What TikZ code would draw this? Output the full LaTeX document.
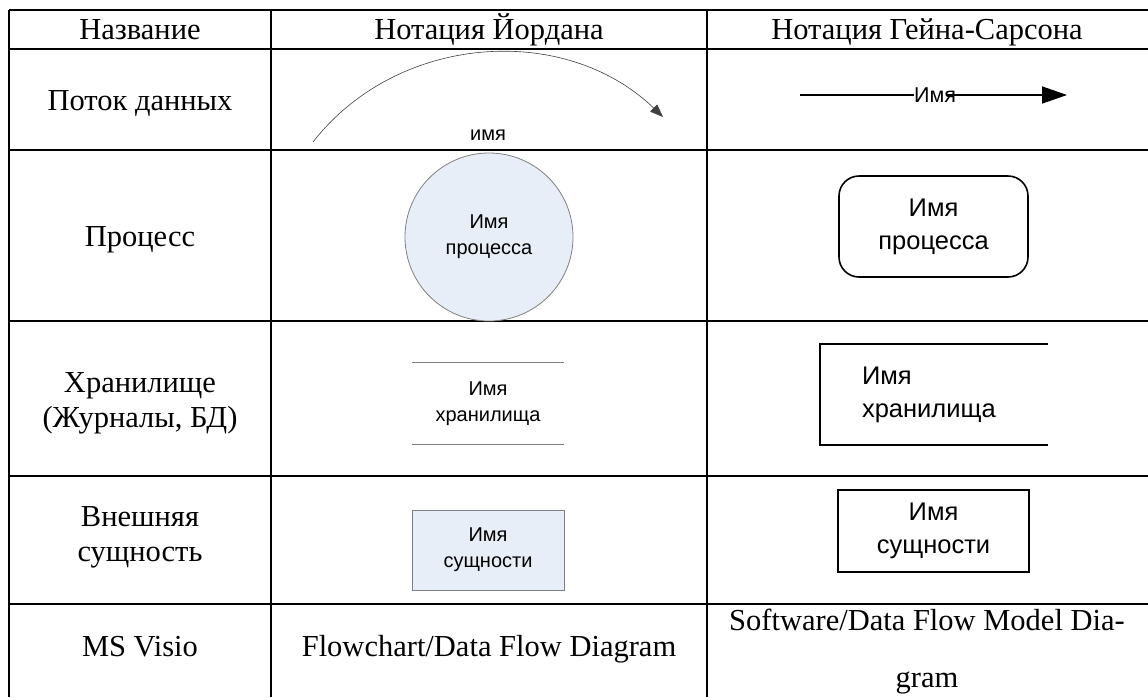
\documentclass[tikz,border=0pt]{standalone}
\usepackage{fontspec}
\setmainfont{Liberation Serif}
\newfontfamily\arialfont{Liberation Sans}
\usetikzlibrary{arrows.meta}
\definecolor{shapefill}{RGB}{232,238,247}
\definecolor{shapeline}{RGB}{128,128,128}

\tikzset{
  tableline/.style={line width=1.6pt},
  head/.style={font=\fontsize{30.5}{35}\selectfont, align=center, inner sep=0pt},
  small/.style={font=\arialfont\fontsize{20}{26}\selectfont, align=center, inner sep=0pt},
  big/.style={font=\arialfont\fontsize{25.5}{33}\selectfont, align=center, inner sep=0pt},
  yshape/.style={draw=shapeline, fill=shapefill, line width=0.8pt},
  gshape/.style={draw=black, line width=1.6pt},
}

\begin{document}
\begin{tikzpicture}[x=1pt,y=-1pt]
\useasboundingbox (0,0) rectangle (1148,697);

\foreach \y in {10,49,150,321,476,604} \draw[tableline] (9,\y) -- (1148,\y);
\foreach \x in {9,271,707} \draw[tableline] (\x,10) -- (\x,697);

\node[head, anchor=base] (hname) at (140,39) {Название};
\node[head, anchor=base] (hjord) at (489,39) {Нотация Йордана};
\node[head, anchor=base] (hgein) at (927,39) {Нотация Гейна-Сарсона};

\node[head, anchor=base] (nflow) at (140,110) {Поток данных};
\node[head, anchor=base] (nproc) at (140,246) {Процесс};
\node[head] (nstore) at (140,403) {Хранилище\\(Журналы, БД)};
\node[head] (nent) at (140,537) {Внешняя\\сущность};
\node[head, anchor=base] (nvisio) at (140,656) {MS Visio};

\coordinate (jflowa) at (313,142);
\coordinate (jflowb) at (663,117);
\draw[line width=0.6pt, black!75, -{Triangle[length=13pt,width=10pt]}] (jflowa) to[bend left=48] (jflowb);
\node[small] (jflow) at (488,135) {имя};

\coordinate (gflowa) at (800,95);
\coordinate (gflowb) at (1067,95);
\node[small, font=\arialfont\fontsize{21.5}{26}\selectfont] (gflow) at (935,95) {Имя};
\draw[line width=1.5pt] (gflowa) -- (gflow.west);
\draw[line width=1.5pt, -{Triangle[length=25pt,width=17pt]}] ([xshift=-9pt]gflow.east) -- (gflowb);

\node[yshape, circle, minimum size=168pt, small] (jproc) at (489,237) {Имя\\процесса};
\node[gshape, rounded corners=20pt, minimum width=189pt, minimum height=101pt, big] (gproc) at (933.5,226.5) {Имя\\процесса};

\node[small, minimum width=152pt, minimum height=81pt] (jstore) at (488,403.5) {Имя\\хранилища};
\draw[shapeline, line width=0.8pt] (jstore.north west) -- (jstore.north east);
\draw[shapeline, line width=0.8pt] (jstore.south west) -- (jstore.south east);

\node[minimum width=228pt, minimum height=101pt, inner sep=0pt] (gstore) at (934,394.5) {};
\draw[gshape] (gstore.north east) -- (gstore.north west) -- (gstore.south west) -- (gstore.south east);
\node[big, align=left, anchor=west] (gstoretext) at ([xshift=42pt]gstore.west) {Имя\\хранилища};

\node[yshape, minimum width=152pt, minimum height=80pt, small] (jent) at (488,550) {Имя\\сущности};
\node[gshape, minimum width=191pt, minimum height=82pt, big] (gent) at (933.5,531) {Имя\\сущности};

\node[head, anchor=base] (jvisio) at (489,656) {Flowchart/Data Flow Diagram};
\node[head, anchor=north, font=\fontsize{30.5}{57}\selectfont] (gvisio) at (927,609) {Software/Data Flow Model Dia-\\gram};

\end{tikzpicture}
\end{document}
